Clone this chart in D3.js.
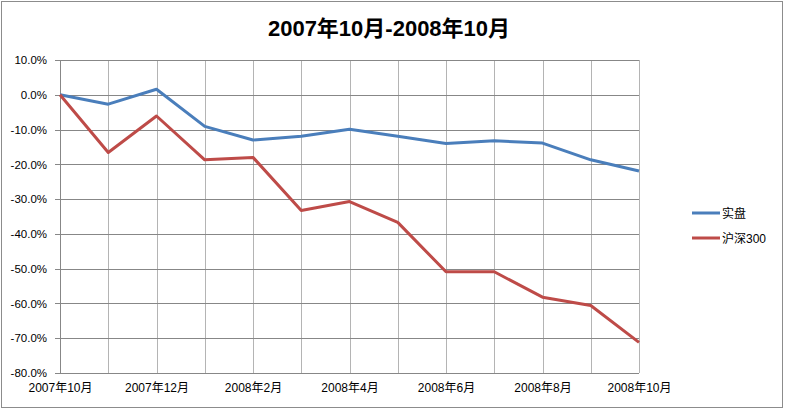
<!DOCTYPE html>
<html>
<head>
<meta charset="utf-8">
<script src="https://cdn.jsdelivr.net/npm/d3@7"></script>
<style>
  body { margin: 0; background: #fff; }
  text { font-family: "Liberation Sans", "Noto Sans CJK SC", sans-serif; }
</style>
</head>
<body>
<div id="chart"></div>
<script>
// data
var months = ["2007年10月", "2007年11月", "2007年12月", "2008年1月", "2008年2月", "2008年3月",
    "2008年4月", "2008年5月", "2008年6月", "2008年7月", "2008年8月", "2008年9月", "2008年10月"];
var shipan = [0, -2.7, 1.6, -9.1, -13.0, -11.9, -9.9, -11.9, -14.0, -13.2, -13.9, -18.7, -21.9];
var hs300 = [0, -16.6, -6.1, -18.7, -18.0, -33.3, -30.7, -36.7, -50.9, -50.9, -58.2, -60.6, -71.2];
var yTicks = [10, 0, -10, -20, -30, -40, -50, -60, -70, -80];
var seriesNames = ["实盘", "沪深300"];
var seriesColors = ["#4a7ebb", "#be4b48"];

var svgWidth = 785;
var svgHeight = 410;
var margin = { top: 60, right: 146, bottom: 37, left: 60 };
var chartWidth = svgWidth - margin.left - margin.right;
var chartHeight = svgHeight - margin.top - margin.bottom;

var svg = d3.select("#chart")
    .append("svg")
    .attr("width", svgWidth)
    .attr("height", svgHeight);

// outer frame
svg.append("rect")
    .attr("x", 1.5).attr("y", 1.5)
    .attr("width", svgWidth - 4).attr("height", svgHeight - 4)
    .attr("fill", "none")
    .attr("stroke", "#8c8c8c");

// title
svg.append("text")
    .attr("x", 389)
    .attr("y", 36)
    .attr("text-anchor", "middle")
    .attr("font-size", "22px")
    .attr("font-weight", "bold")
    .text("2007年10月-2008年10月");

var chartGroup = svg.append("g")
    .attr("transform", `translate(${margin.left}, ${margin.top})`);

var xScale = d3.scalePoint()
    .domain(months)
    .range([0, chartWidth]);

var yScale = d3.scaleLinear()
    .domain([-80, 10])
    .range([chartHeight, 0]);

// vertical gridlines
chartGroup.append("g")
    .selectAll("line")
    .data(months)
    .enter()
    .append("line")
    .attr("x1", d => Math.round(xScale(d)) + 0.5)
    .attr("x2", d => Math.round(xScale(d)) + 0.5)
    .attr("y1", 0)
    .attr("y2", chartHeight)
    .attr("stroke", "#b4b4b4");

// horizontal gridlines
chartGroup.append("g")
    .selectAll("line")
    .data(yTicks)
    .enter()
    .append("line")
    .attr("x1", -5)
    .attr("x2", chartWidth)
    .attr("y1", d => Math.round(yScale(d)) + 0.5)
    .attr("y2", d => Math.round(yScale(d)) + 0.5)
    .attr("stroke", "#878787");

// left axis line
chartGroup.append("line")
    .attr("x1", 0.5).attr("x2", 0.5)
    .attr("y1", 0).attr("y2", chartHeight)
    .attr("stroke", "#878787");

// y axis labels
var leftAxis = d3.axisLeft(yScale)
    .tickValues(yTicks)
    .tickSize(0)
    .tickPadding(13)
    .tickFormat(d => d.toFixed(1) + "%");

var yAxis = chartGroup.append("g").call(leftAxis);
yAxis.select(".domain").remove();
yAxis.selectAll("text")
    .attr("font-size", "11.5px")
    .attr("fill", "#000")
    .style("font-family", "'Liberation Sans', 'Noto Sans CJK SC', sans-serif");

// x axis labels, every second month
var bottomAxis = d3.axisBottom(xScale)
    .tickValues(months.filter((d, i) => i % 2 === 0))
    .tickSize(0)
    .tickPadding(10);

var xAxis = chartGroup.append("g")
    .attr("transform", `translate(0, ${chartHeight})`)
    .call(bottomAxis);
xAxis.select(".domain").remove();
xAxis.selectAll("text")
    .attr("font-size", "12px")
    .attr("fill", "#000")
    .style("font-family", "'Liberation Sans', 'Noto Sans CJK SC', sans-serif");

// lines
var line = d3.line()
    .x((d, i) => xScale(months[i]))
    .y(d => yScale(d));

[shipan, hs300].forEach(function(values, k) {
    chartGroup.append("path")
        .datum(values)
        .attr("d", line)
        .attr("fill", "none")
        .attr("stroke", seriesColors[k])
        .attr("stroke-width", 3)
        .attr("stroke-linejoin", "round");
});

// legend
var legend = svg.append("g")
    .attr("transform", "translate(692, 213)");

seriesNames.forEach(function(name, k) {
    var row = legend.append("g")
        .attr("transform", `translate(0, ${k * 25})`);
    row.append("line")
        .attr("x1", 0).attr("x2", 28)
        .attr("y1", 0).attr("y2", 0)
        .attr("stroke", seriesColors[k])
        .attr("stroke-width", 3);
    row.append("text")
        .attr("x", 30)
        .attr("y", 4.5)
        .attr("font-size", "12px")
        .text(name);
});
</script>
</body>
</html>
